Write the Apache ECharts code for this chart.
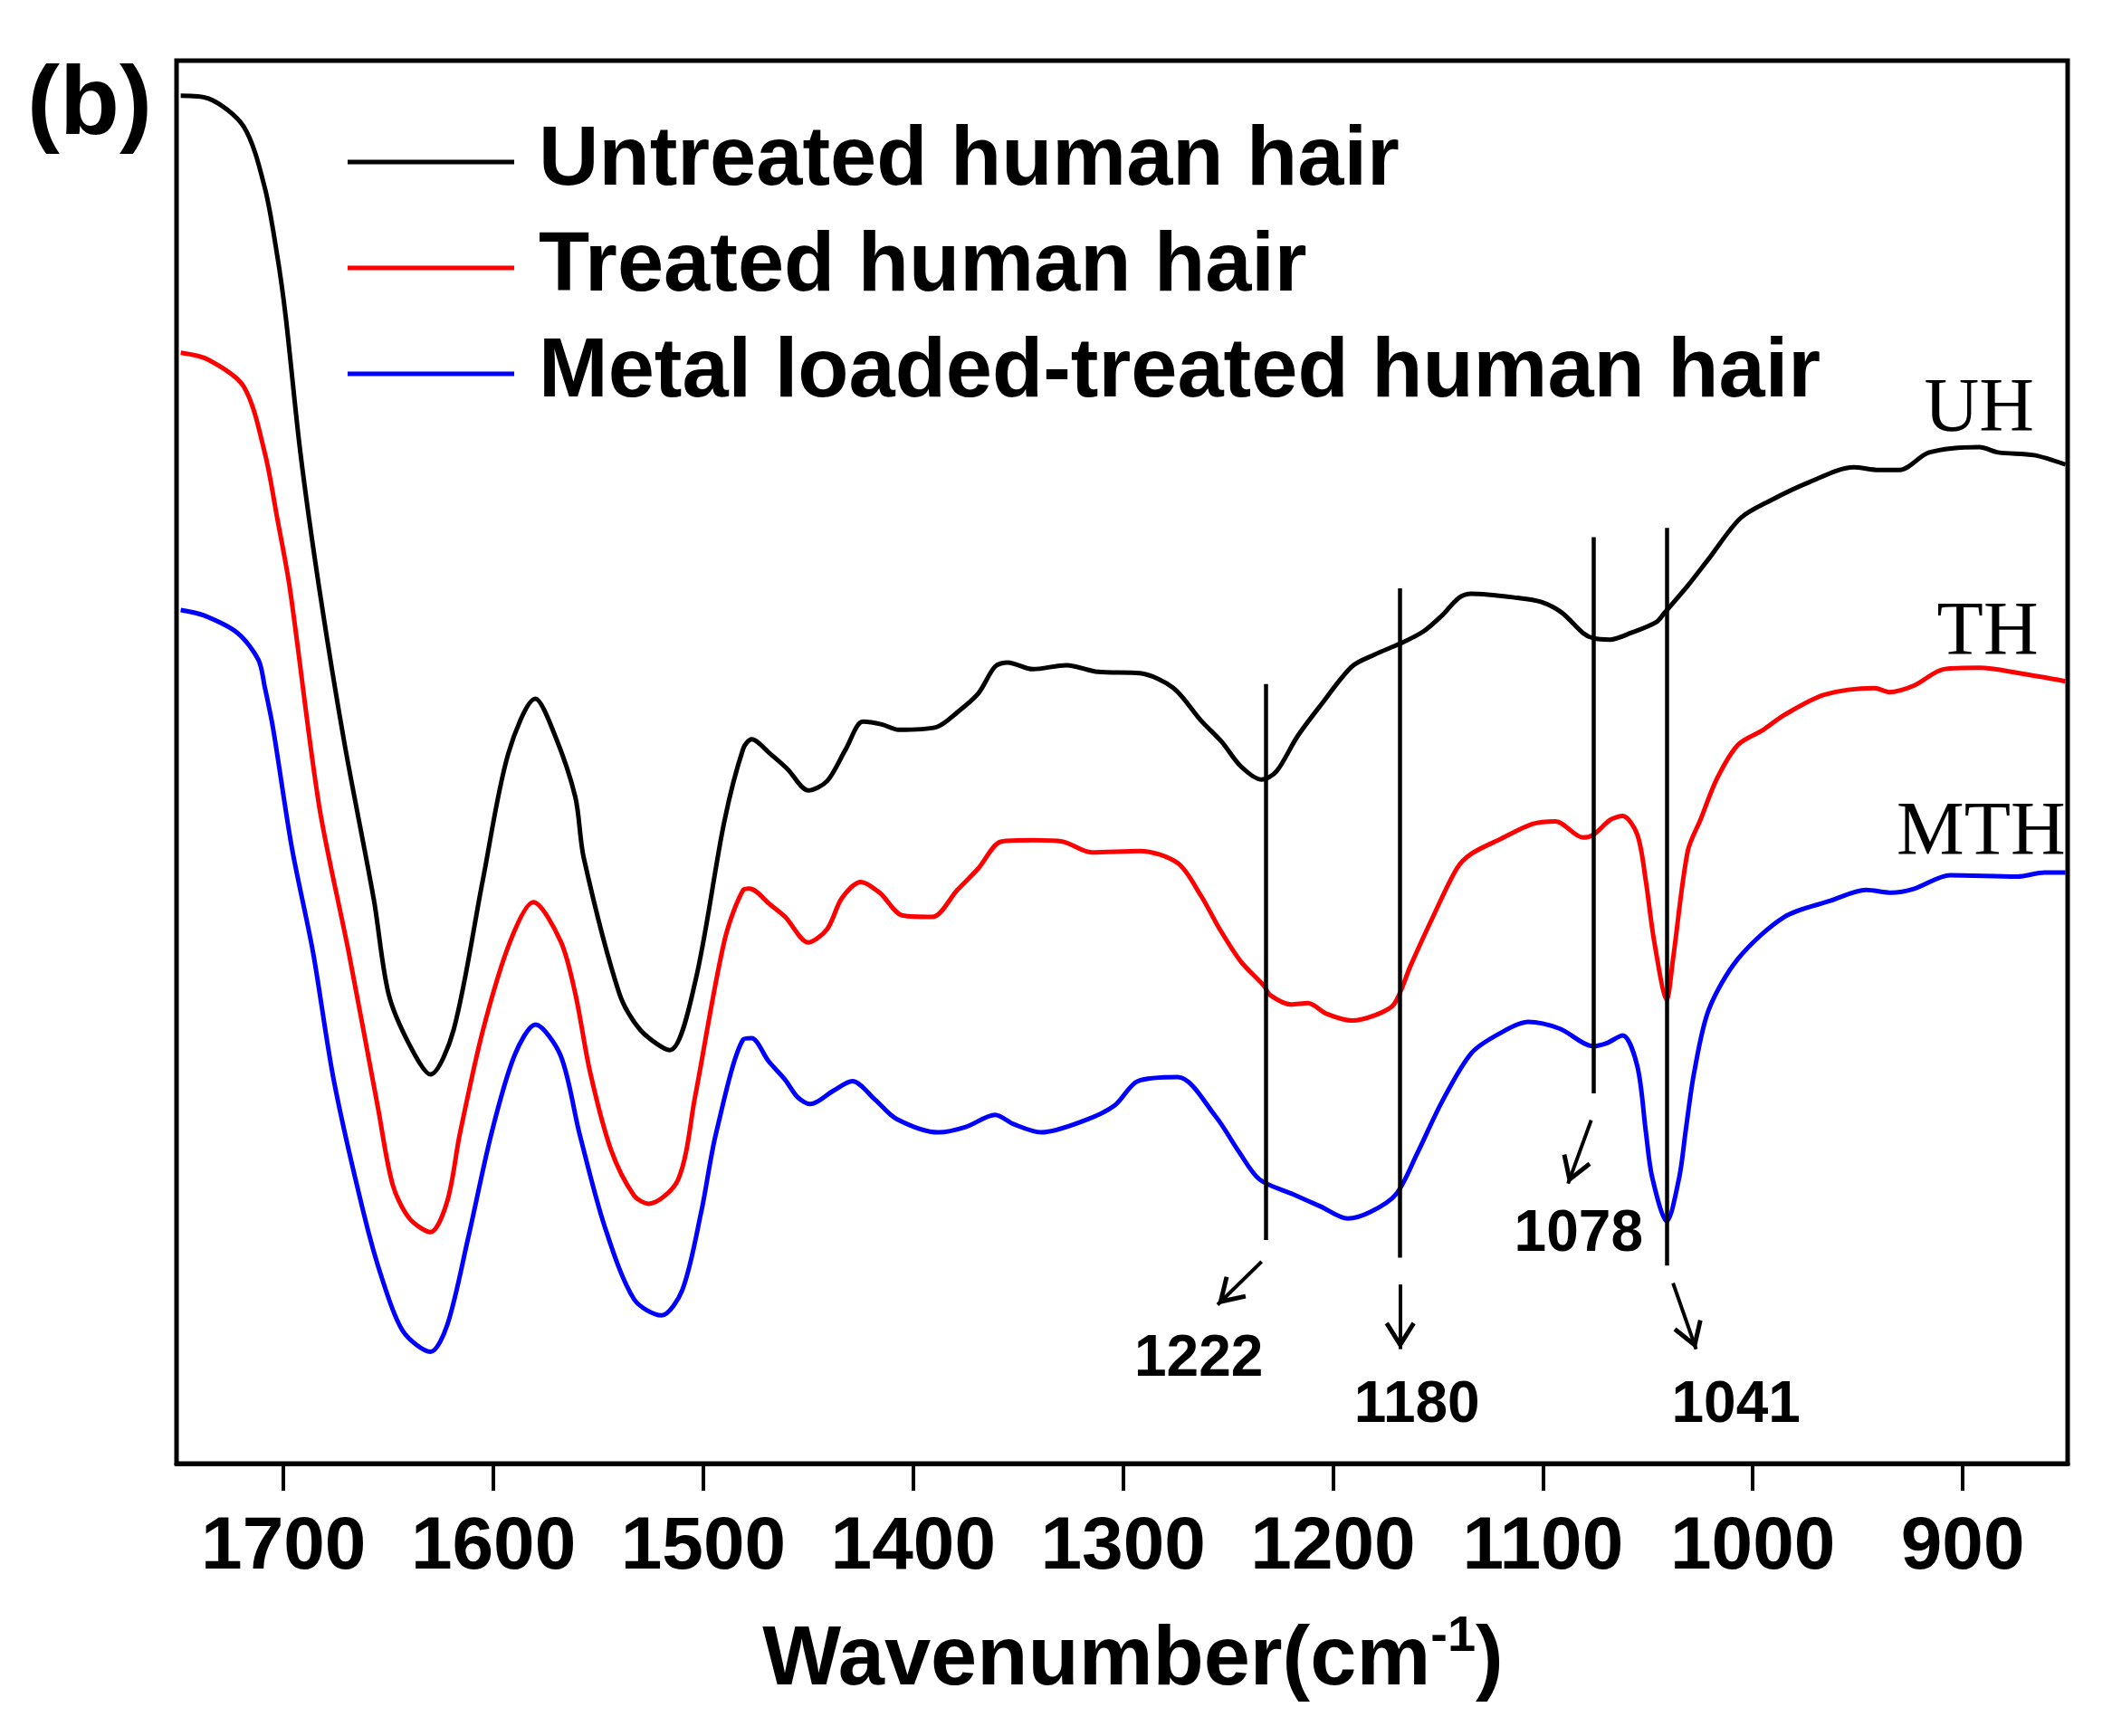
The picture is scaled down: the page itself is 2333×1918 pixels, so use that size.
<!DOCTYPE html>
<html>
<head>
<meta charset="utf-8">
<script src="https://cdn.jsdelivr.net/npm/echarts@6/dist/echarts.min.js"></script>
<style>
  html, body { margin: 0; padding: 0; background: #fff; }
  #chart { width: 2333px; height: 1918px; }
</style>
</head>
<body>
<div id="chart"></div>
<script>
// FTIR spectra, wavenumber (cm-1) vs transmittance (a.u., offset)
const seriesNames = ['Untreated human hair', 'Treated human hair', 'Metal loaded-treated human hair']
const xTicks = [900, 1000, 1100, 1200, 1300, 1400, 1500, 1600, 1700]

const uhData = [
  [1749, 101.6], [1736, 101.4], [1719, 99.3], [1709, 94.8], [1703, 89.7], [1699, 85.2],
  [1692, 75.1], [1683, 65.0], [1671, 53.5], [1657, 41.9], [1650, 34.9], [1640, 31.1],
  [1630, 28.9], [1619, 32.2], [1605, 43.4], [1593, 52.7], [1580, 56.8], [1571, 54.2],
  [1561, 49.5], [1557, 45.0], [1540, 34.9], [1530, 32.2], [1516, 30.7], [1504, 35.7],
  [1490, 47.7], [1481, 53.1], [1477, 53.8], [1468, 52.7], [1460, 51.6], [1450, 50.0],
  [1441, 50.7], [1432, 53.1], [1424, 55.1], [1415, 54.9], [1407, 54.5], [1389, 54.7],
  [1379, 55.8], [1369, 57.2], [1361, 59.2], [1355, 59.5], [1343, 59.0], [1327, 59.3],
  [1312, 58.8], [1292, 58.7], [1276, 57.6], [1263, 55.2], [1253, 53.6], [1244, 51.8],
  [1234, 50.8], [1227, 51.4], [1217, 54.0], [1206, 56.3], [1191, 59.2], [1180, 60.1],
  [1168, 60.9], [1157, 61.8], [1148, 63.0], [1140, 64.3], [1134, 64.6], [1112, 64.3],
  [1101, 64.0], [1091, 63.2], [1081, 61.7], [1076, 61.3], [1068, 61.2], [1058, 61.7],
  [1046, 62.5], [1042, 63.2], [1031, 65.2], [1021, 67.2], [1006, 70.2], [992, 71.5],
  [973, 72.9], [952, 74.0], [940, 73.8], [930, 73.8], [916, 75.1], [892, 75.5],
  [883, 75.1], [866, 74.9], [851, 74.2]
]

const thData = [
  [1749, 82.5], [1736, 82.0], [1719, 80.0], [1709, 75.1], [1703, 70.2], [1697, 65.0],
  [1683, 48.8], [1669, 38.0], [1655, 26.4], [1648, 20.7], [1640, 18.2], [1630, 17.2],
  [1622, 19.5], [1616, 24.5], [1605, 32.2], [1592, 38.8], [1581, 41.7], [1568, 38.8],
  [1561, 34.9], [1554, 29.1], [1544, 23.3], [1533, 19.9], [1526, 19.3], [1512, 21.1],
  [1504, 27.2], [1490, 38.8], [1481, 42.6], [1478, 42.7], [1468, 41.5], [1461, 40.6],
  [1450, 38.7], [1441, 39.7], [1434, 42.0], [1425, 43.2], [1416, 42.4], [1405, 40.7],
  [1391, 40.6], [1379, 42.6], [1369, 44.2], [1358, 46.2], [1343, 46.3], [1329, 46.2],
  [1315, 45.4], [1292, 45.5], [1274, 44.6], [1263, 42.2], [1254, 39.7], [1244, 37.3],
  [1233, 35.5], [1230, 34.8], [1220, 34.1], [1212, 34.2], [1203, 33.4], [1191, 32.9],
  [1180, 33.3], [1171, 34.1], [1163, 37.0], [1153, 40.4], [1141, 44.2], [1134, 45.3],
  [1120, 46.4], [1105, 47.5], [1094, 47.7], [1081, 46.5], [1076, 46.7], [1068, 47.8],
  [1062, 48.1], [1055, 46.7], [1051, 43.3], [1047, 38.8], [1041, 34.5], [1038, 37.5],
  [1031, 45.5], [1025, 47.8], [1017, 50.9], [1007, 53.4], [995, 54.5], [985, 55.6],
  [966, 57.1], [942, 57.6], [935, 57.3], [923, 57.8], [909, 59.0], [892, 59.1],
  [873, 58.7], [851, 58.1]
]

const mthData = [
  [1749, 63.4], [1738, 63.0], [1722, 61.7], [1712, 59.7], [1709, 57.7], [1705, 54.6],
  [1696, 45.7], [1686, 38.0], [1676, 28.4], [1662, 18.7], [1653, 13.7], [1643, 9.8],
  [1630, 8.3], [1622, 10.3], [1612, 16.8], [1601, 24.5], [1590, 30.3], [1580, 32.6],
  [1568, 30.3], [1559, 24.5], [1547, 17.6], [1533, 12.2], [1520, 11.0], [1510, 12.9],
  [1501, 18.7], [1494, 24.5], [1481, 31.5], [1477, 31.6], [1469, 29.9], [1461, 28.5],
  [1455, 27.2], [1449, 26.7], [1438, 27.7], [1429, 28.4], [1418, 27.0], [1408, 25.6],
  [1388, 24.6], [1375, 25.0], [1361, 25.9], [1352, 25.2], [1339, 24.6], [1318, 25.5],
  [1304, 26.6], [1293, 28.4], [1274, 28.7], [1256, 25.8], [1245, 23.2], [1235, 21.1],
  [1219, 20.0], [1206, 19.1], [1193, 18.2], [1182, 18.7], [1170, 20.0], [1160, 23.0],
  [1148, 26.9], [1134, 30.5], [1120, 32.0], [1107, 32.8], [1092, 32.3], [1076, 31.0],
  [1070, 31.2], [1062, 31.8], [1055, 29.5], [1051, 24.7], [1048, 21.3], [1041, 18.0],
  [1035, 21.3], [1032, 24.7], [1028, 29.0], [1021, 33.7], [1007, 37.5], [985, 40.6],
  [963, 41.8], [946, 42.6], [934, 42.4], [923, 42.7], [906, 43.7], [874, 43.6],
  [861, 43.9], [851, 43.9]
]

// marker lines: [wavenumber, top, bottom]
const peakLines = [[1232, 57.9, 16.6], [1168, 65.0, 15.3], [1076, 68.8, 27.5], [1041, 69.5, 14.7]]
// arrows: [fromX, fromY, toX, toY]
const peakArrows = [[1234, 15.0, 1255, 11.8], [1168, 13.3, 1168, 8.5], [1077, 25.5, 1088, 20.8], [1038, 13.4, 1027, 8.5]]
// peak labels: [text, x, y]
const peakLabels = [['1222', 1264, 7.7], ['1180', 1160, 4.3], ['1078', 1083, 17.0], ['1041', 1008, 4.3]]
// curve names: [text, x, y]
const curveLabels = [['UH', 866, 78.2], ['TH', 864, 61.6], ['MTH', 851, 46.7]]

const arrowHead = 'path://M10,0 L20,16 L17.6,17.6 L10,5.6 L2.4,17.6 L0,16 Z'
const legendLine = 'path://M0,0 H46 V1.25 H0 Z'
const sans = 'Liberation Sans'

const chart = echarts.init(document.getElementById('chart'))

chart.setOption({
  animation: false,
  backgroundColor: '#fff',
  grid: {
    left: 195,
    right: 49,
    top: 67,
    bottom: 301,
    show: true,
    borderColor: '#000',
    borderWidth: 5,
  },
  legend: {
    data: seriesNames.map((name) => ({ name, icon: legendLine })),
    orient: 'vertical',
    left: 384,
    top: 133,
    padding: 0,
    itemWidth: 184,
    itemHeight: 92,
    itemGap: 25,
    selectedMode: false,
    textStyle: {
      fontFamily: sans,
      fontSize: 92,
      fontWeight: 'bold',
      color: '#000',
      lineHeight: 92,
      padding: [0, 0, 0, 22],
    },
  },
  graphic: [
    {
      type: 'text',
      left: 30,
      top: 64,
      style: { text: '(b)', font: 'bold 108px "Liberation Sans"', fill: '#000' },
    },
  ],
  xAxis: {
    type: 'value',
    inverse: true,
    min: 850,
    max: 1751,
    axisLine: { show: true, onZero: false, lineStyle: { color: '#000', width: 5 } },
    axisTick: {
      show: true,
      inside: false,
      length: 30,
      customValues: xTicks,
      lineStyle: { color: '#000', width: 4 },
    },
    axisLabel: {
      customValues: xTicks,
      formatter: (v) => String(v),
      margin: 52,
      fontFamily: sans,
      fontSize: 82,
      fontWeight: 'bold',
      color: '#000',
    },
    splitLine: { show: false },
    name: '{t|Wavenumber(cm}{s|-1}{t|)}',
    nameLocation: 'middle',
    nameGap: 164,
    nameTextStyle: {
      padding: [0, 0, 0, 24],
      rich: {
        t: { fontFamily: sans, fontSize: 92, fontWeight: 'bold', color: '#000', lineHeight: 110 },
        s: { fontFamily: sans, fontSize: 56, fontWeight: 'bold', color: '#000', lineHeight: 30, verticalAlign: 'top' },
      },
    },
  },
  yAxis: {
    type: 'value',
    min: 0,
    max: 104.2,
    show: false,
  },
  series: [
    {
      name: seriesNames[0],
      type: 'line',
      data: uhData,
      symbol: 'none',
      smooth: 0.3,
      lineStyle: { color: '#000', width: 5 },
      itemStyle: { color: '#000' },
      markLine: {
        silent: true,
        symbol: ['none', 'none'],
        label: { show: false },
        lineStyle: { color: '#000', width: 4.5, type: 'solid' },
        emphasis: { disabled: true },
        data: peakLines.map((p) => [{ coord: [p[0], p[1]] }, { coord: [p[0], p[2]] }]),
      },
    },
    {
      name: seriesNames[1],
      type: 'line',
      data: thData,
      symbol: 'none',
      smooth: 0.3,
      lineStyle: { color: '#ff0000', width: 5 },
      itemStyle: { color: '#ff0000' },
      markLine: {
        silent: true,
        label: { show: false },
        lineStyle: { color: '#000', width: 4, type: 'solid' },
        itemStyle: { color: '#000' },
        emphasis: { disabled: true },
        data: peakArrows.map((a) => [
          { coord: [a[0], a[1]], symbol: 'none', symbolSize: 0, symbolOffset: 0 },
          { coord: [a[2], a[3]], symbol: arrowHead, symbolSize: [34, 30], symbolOffset: [0, 15], symbolKeepAspect: false },
        ]),
      },
    },
    {
      name: seriesNames[2],
      type: 'line',
      data: mthData,
      symbol: 'none',
      smooth: 0.3,
      lineStyle: { color: '#0000ff', width: 5 },
      itemStyle: { color: '#0000ff' },
      markPoint: {
        silent: true,
        symbol: 'circle',
        symbolSize: 0,
        data: [
          ...peakLabels.map((l) => ({
            name: l[0],
            coord: [l[1], l[2]],
            label: {
              show: true,
              position: 'inside',
              formatter: '{b}',
              fontFamily: sans,
              fontSize: 64,
              fontWeight: 'bold',
              color: '#000',
            },
          })),
          ...curveLabels.map((l) => ({
            name: l[0],
            coord: [l[1], l[2]],
            label: {
              show: true,
              position: 'left',
              distance: 0,
              formatter: '{b}',
              fontFamily: 'Liberation Serif',
              fontSize: 84,
              color: '#000',
            },
          })),
        ],
      },
    },
  ],
})
</script>
</body>
</html>
